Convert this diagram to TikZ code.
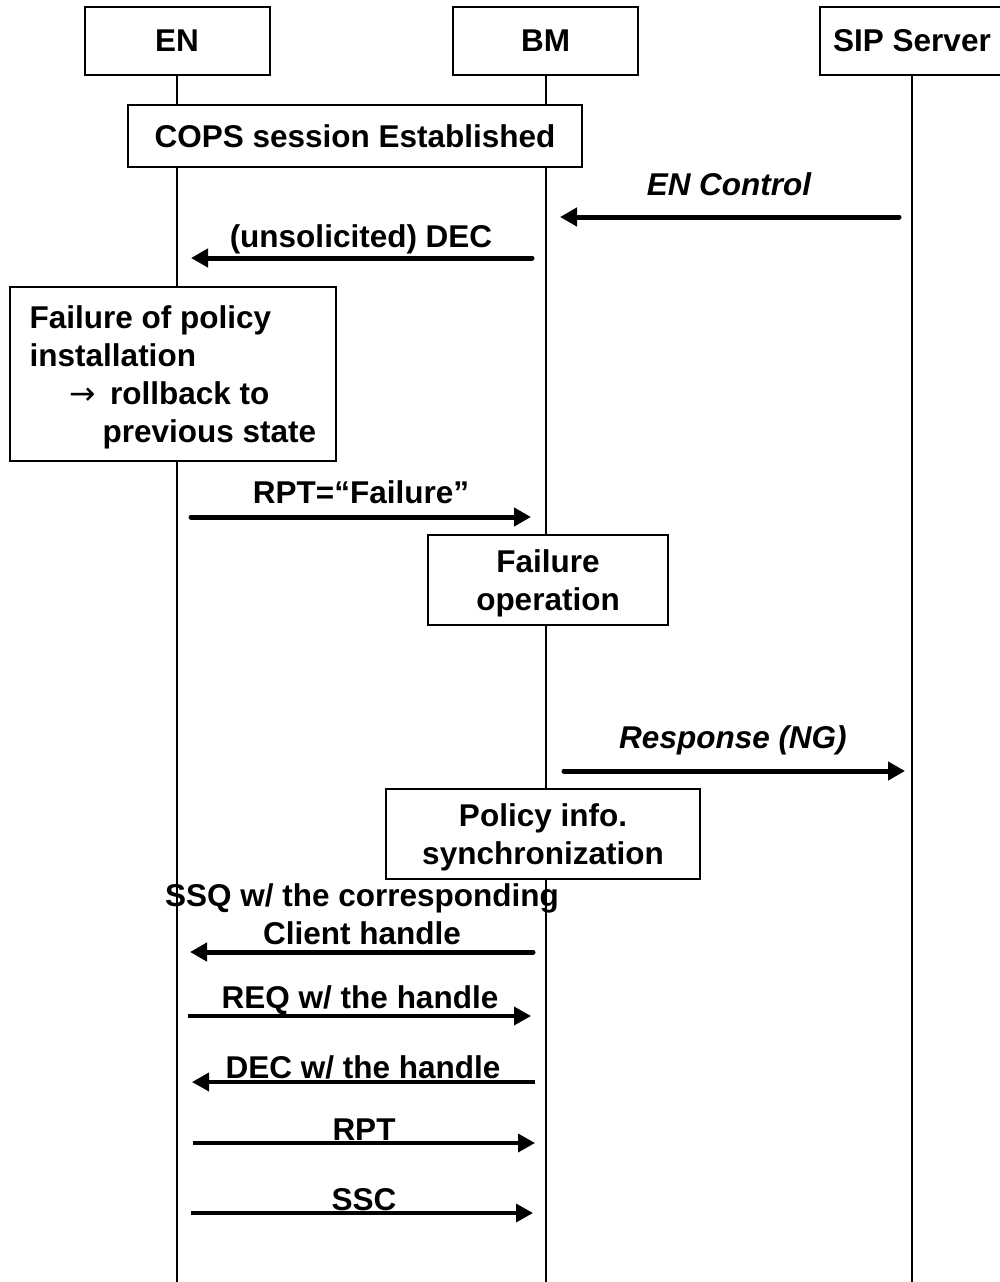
\documentclass[tikz,border=0pt]{standalone}
\usepackage{fontspec}
\setmainfont{Liberation Sans}
\newfontfamily\arrowfont{DejaVu Sans}
\usetikzlibrary{arrows.meta}
\begin{document}
\begin{tikzpicture}[x=1pt,y=-1pt,
  every node/.style={font=\fontsize{31.5}{38}\selectfont\bfseries},
  actor/.style={draw,line width=2pt,fill=white,minimum width=185pt,minimum height=68pt,inner sep=0pt},
  procbox/.style={draw,line width=2pt,fill=white,inner sep=0pt,align=center},
  lifeline/.style={line width=2pt},
  msg/.style={line width=5pt,line cap=round,-{Triangle[length=17pt,width=18pt]}},
  thinmsg/.style={line width=3.6pt,-{Triangle[length=17pt,width=18pt]}},
  lbl/.style={inner sep=0pt,anchor=base},
]
\useasboundingbox (0,0) rectangle (1000,1282);
% actors
\node[actor] (en) at (177,41) {EN};
\node[actor] (bm) at (545.5,41) {BM};
\node[actor,minimum width=184pt] (sip) at (912,41) {SIP Server};
% lifelines
\coordinate (enBot) at (177,1282);
\coordinate (bmBot) at (545.5,1282);
\coordinate (sipBot) at (912,1282);
\draw[lifeline] (en.south) -- (enBot);
\draw[lifeline] (bm.south) -- (bmBot);
\draw[lifeline] (sip.south) -- (sipBot);
% process boxes
\node[procbox,minimum width=454pt,minimum height=62pt] (cops) at (355,136) {COPS session Established};
\node[procbox,align=left,minimum width=326pt,minimum height=174pt] (fail) at (173,374)
  {\rule{0pt}{29pt}Failure of policy\\installation\\\hspace*{40pt}{\arrowfont\mdseries →}\hspace{14pt}rollback to\\\hspace*{73pt}previous state};
\node[procbox,minimum width=240pt,minimum height=90pt] (fop) at (548,580) {\rule{0pt}{29pt}Failure\\operation};
\node[procbox,minimum width=314pt,minimum height=90pt] (pol) at (543,834) {\rule{0pt}{30pt}Policy info.\\synchronization};
% messages
\coordinate (m1s) at (899,217); \coordinate (m1e) at (560,217);
\draw[msg] (m1s) -- (m1e);
\node[lbl] (l1) at (729,195) {\itshape EN Control};
\coordinate (m2s) at (532,258); \coordinate (m2e) at (191,258);
\draw[msg] (m2s) -- (m2e);
\node[lbl] (l2) at (361,247) {(unsolicited) DEC};
\coordinate (m3s) at (191,517); \coordinate (m3e) at (531,517);
\draw[msg] (m3s) -- (m3e);
\node[lbl] (l3) at (361,503) {RPT=“Failure”};
\coordinate (m4s) at (564,771); \coordinate (m4e) at (905,771);
\draw[msg] (m4s) -- (m4e);
\node[lbl] (l4) at (733,748) {\itshape Response (NG)};
\coordinate (m5s) at (533,952); \coordinate (m5e) at (190,952);
\draw[msg] (m5s) -- (m5e);
\node[inner sep=0pt,anchor=south,align=center] (l5) at (362,945) {SSQ w/ the corresponding\\Client handle};
\coordinate (m6s) at (188,1016); \coordinate (m6e) at (531,1016);
\draw[thinmsg] (m6s) -- (m6e);
\node[lbl] (l6) at (360,1008) {REQ w/ the handle};
\coordinate (m7s) at (535,1082); \coordinate (m7e) at (192,1082);
\draw[thinmsg] (m7s) -- (m7e);
\node[lbl] (l7) at (363,1078) {DEC w/ the handle};
\coordinate (m8s) at (193,1143); \coordinate (m8e) at (535,1143);
\draw[thinmsg] (m8s) -- (m8e);
\node[lbl] (l8) at (364,1140) {RPT};
\coordinate (m9s) at (191,1213); \coordinate (m9e) at (533,1213);
\draw[thinmsg] (m9s) -- (m9e);
\node[lbl] (l9) at (364,1210) {SSC};
\end{tikzpicture}
\end{document}
